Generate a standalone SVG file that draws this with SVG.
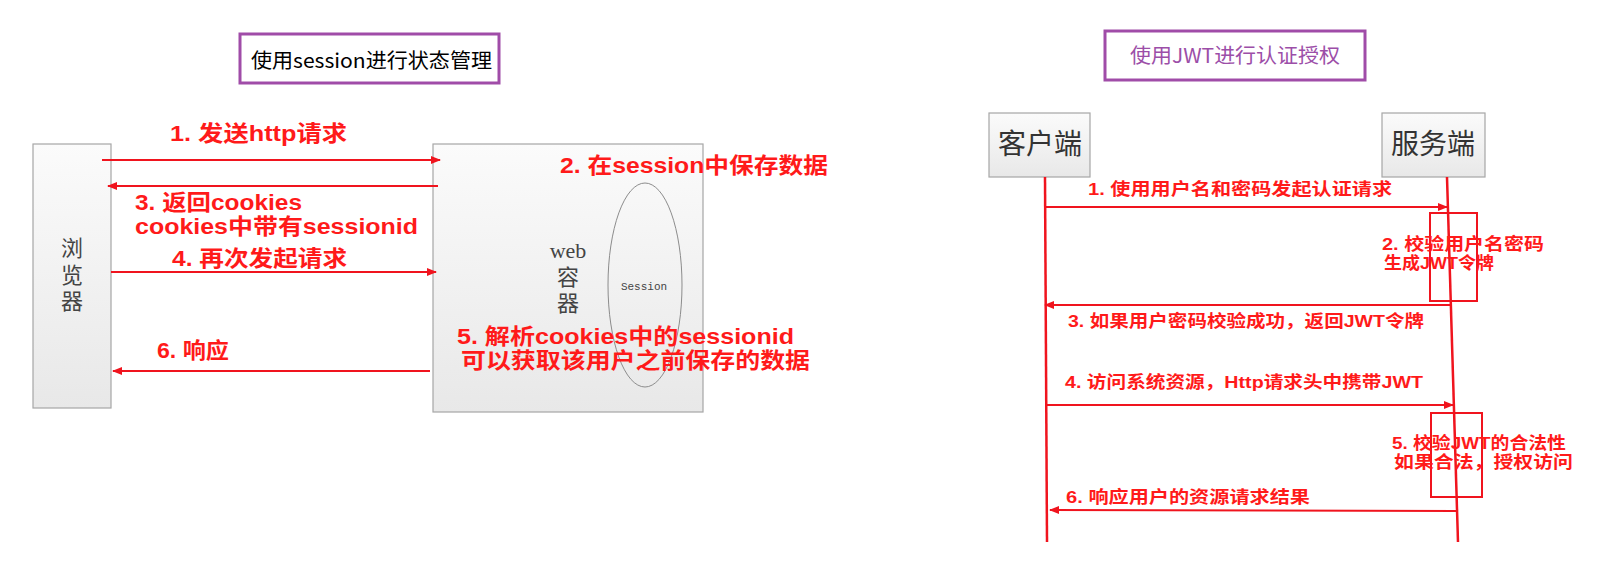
<svg xmlns="http://www.w3.org/2000/svg" width="1608" height="562" viewBox="0 0 1608 562">
<style>
.title{fill:none;stroke:#A04CA8;stroke-width:3}
.box{stroke:#A6A6A6;stroke-width:1.2}
.lbl{fill:#FF1A1A;font-family:"Liberation Sans","Noto Sans CJK SC",sans-serif;font-weight:bold}
.l22{font-size:22px}
.r18{font-size:17px}
.arr{stroke:#F0141E;stroke-width:2;fill:none}
.life{stroke:#F0141E;stroke-width:2.5;fill:none}
.act{fill:none;stroke:#F0141E;stroke-width:2}
.node{fill:#444;font-family:"Liberation Serif","Noto Sans CJK SC",serif;font-size:22px;text-anchor:middle}
.node2{fill:#333;font-family:"Noto Sans CJK SC",sans-serif;font-size:28px;text-anchor:middle}
</style>
<defs>
<linearGradient id="g" x1="0" y1="0" x2="0" y2="1">
<stop offset="0" stop-color="#FBFBFB"/>
<stop offset="1" stop-color="#E8E8E8"/>
</linearGradient>
<marker id="ah" viewBox="0 0 10 10" refX="9" refY="5" markerWidth="5" markerHeight="5" orient="auto" markerUnits="strokeWidth">
<path d="M0,1 L10,5 L0,9 z" fill="#F0141E"/>
</marker>
</defs>
<rect width="1608" height="562" fill="#FFFFFF"/>

<g id="title-session">
<rect class="title" x="240" y="34" width="259" height="49"/>
<text x="251" y="68" font-family="Noto Sans CJK SC,sans-serif" font-size="20" fill="#000" textLength="241" lengthAdjust="spacingAndGlyphs">使用session进行状态管理</text>
</g>

<g id="title-jwt">
<rect class="title" x="1105" y="31" width="260" height="49"/>
<text x="1130" y="63" font-family="Noto Sans CJK SC,sans-serif" font-size="20" fill="#9C4EA8" textLength="210" lengthAdjust="spacingAndGlyphs">使用JWT进行认证授权</text>
</g>

<g id="browser">
<rect class="box" x="33" y="144" width="78" height="264" fill="url(#g)"/>
<text class="node" x="72" y="256">浏</text>
<text class="node" x="72" y="283">览</text>
<text class="node" x="72" y="309">器</text>
</g>

<g id="web-container">
<rect class="box" x="433" y="144" width="270" height="268" fill="url(#g)"/>
<text class="node" x="568" y="258">web</text>
<text class="node" x="568" y="285">容</text>
<text class="node" x="568" y="311">器</text>
</g>

<g id="session">
<ellipse cx="645" cy="285" rx="37" ry="102" fill="none" stroke="#8C8C8C" stroke-width="1"/>
<text x="644" y="290" font-family="Liberation Mono,monospace" font-size="11" fill="#444" text-anchor="middle">Session</text>
</g>

<g id="client">
<rect class="box" x="989" y="113" width="101" height="64" fill="url(#g)"/>
<text class="node2" x="1040" y="154">客户端</text>
</g>

<g id="server">
<rect class="box" x="1382" y="113" width="103" height="64" fill="url(#g)"/>
<text class="node2" x="1433" y="154">服务端</text>
</g>

<g id="activation-2">
<rect class="act" x="1430" y="213" width="47" height="88"/>
</g>
<g id="activation-5">
<rect class="act" x="1431" y="413" width="51" height="84"/>
</g>

<g id="connectors">
<line class="arr" x1="102" y1="160" x2="440" y2="160" marker-end="url(#ah)"/>
<line class="arr" x1="438" y1="186" x2="108" y2="186" marker-end="url(#ah)"/>
<line class="arr" x1="111" y1="272" x2="436" y2="272" marker-end="url(#ah)"/>
<line class="arr" x1="430" y1="371" x2="113" y2="371" marker-end="url(#ah)"/>

<line class="life" x1="1045" y1="177" x2="1047" y2="542"/>
<line class="life" x1="1447" y1="177" x2="1458" y2="542"/>
<line class="arr" x1="1045" y1="207" x2="1447" y2="207" stroke-width="2.5" marker-end="url(#ah)"/>
<line class="arr" x1="1450" y1="305" x2="1045" y2="305" stroke-width="2.5" marker-end="url(#ah)"/>
<line class="arr" x1="1047" y1="405" x2="1453" y2="405" stroke-width="2.5" marker-end="url(#ah)"/>
<line class="arr" x1="1456" y1="511" x2="1050" y2="510" stroke-width="2.5" marker-end="url(#ah)"/>
</g>

<g id="labels">
<text class="lbl l22" x="170" y="141" textLength="177" lengthAdjust="spacingAndGlyphs">1. 发送http请求</text>
<text class="lbl l22" x="560" y="173" textLength="268" lengthAdjust="spacingAndGlyphs">2. 在session中保存数据</text>
<text class="lbl l22" x="135" y="210" textLength="167" lengthAdjust="spacingAndGlyphs">3. 返回cookies</text>
<text class="lbl l22" x="135" y="234" textLength="283" lengthAdjust="spacingAndGlyphs">cookies中带有sessionid</text>
<text class="lbl l22" x="172" y="266" textLength="175" lengthAdjust="spacingAndGlyphs">4. 再次发起请求</text>
<text class="lbl l22" x="457" y="344" textLength="337" lengthAdjust="spacingAndGlyphs">5. 解析cookies中的sessionid</text>
<text class="lbl l22" x="461" y="368" textLength="349" lengthAdjust="spacingAndGlyphs">可以获取该用户之前保存的数据</text>
<text class="lbl l22" x="157" y="358" textLength="72" lengthAdjust="spacingAndGlyphs">6. 响应</text>

<text class="lbl r18" x="1088" y="195" textLength="304" lengthAdjust="spacingAndGlyphs">1. 使用用户名和密码发起认证请求</text>
<text class="lbl r18" x="1382" y="250" textLength="162" lengthAdjust="spacingAndGlyphs">2. 校验用户名密码</text>
<text class="lbl r18" x="1384" y="269" textLength="110" lengthAdjust="spacingAndGlyphs">生成JWT令牌</text>
<text class="lbl r18" x="1068" y="327" textLength="356" lengthAdjust="spacingAndGlyphs">3. 如果用户密码校验成功，返回JWT令牌</text>
<text class="lbl r18" x="1065" y="388" textLength="358" lengthAdjust="spacingAndGlyphs">4. 访问系统资源，Http请求头中携带JWT</text>
<text class="lbl r18" x="1392" y="449" textLength="174" lengthAdjust="spacingAndGlyphs">5. 校验JWT的合法性</text>
<text class="lbl r18" x="1394" y="468" textLength="179" lengthAdjust="spacingAndGlyphs">如果合法，授权访问</text>
<text class="lbl r18" x="1066" y="503" textLength="244" lengthAdjust="spacingAndGlyphs">6. 响应用户的资源请求结果</text>
</g>
</svg>
